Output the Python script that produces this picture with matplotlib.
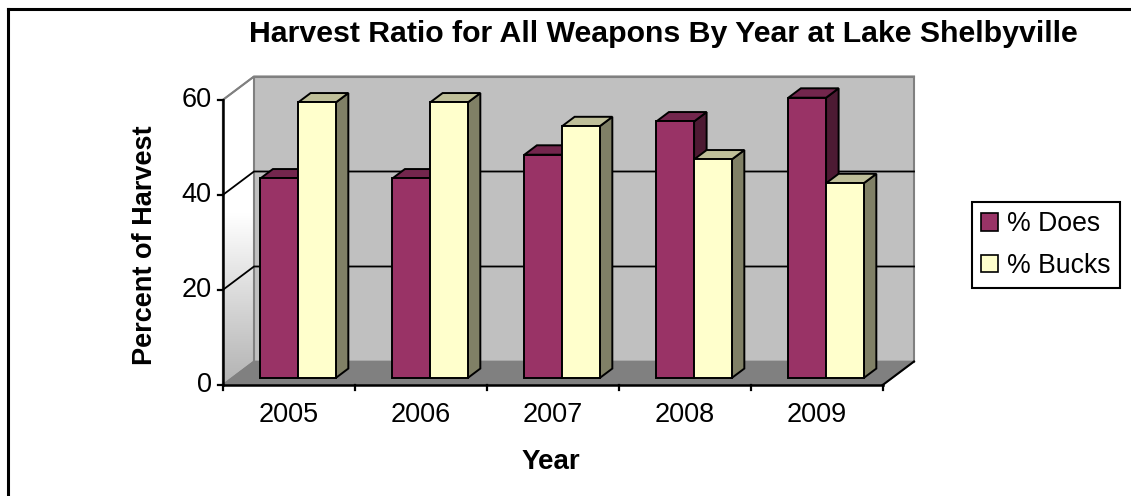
import numpy as np
import matplotlib
matplotlib.use("Agg")
import matplotlib.pyplot as plt
from matplotlib.patches import Polygon, Rectangle, Patch
from matplotlib.lines import Line2D

plt.rcParams['font.family'] = ['Liberation Sans', 'DejaVu Sans']

# ---- data ----
years = ["2005", "2006", "2007", "2008", "2009"]
does = [42, 42, 47, 54, 59]
bucks = [58, 58, 53, 46, 41]
series_names = ["% Does", "% Bucks"]
yticks = [0, 20, 40, 60]
title = "Harvest Ratio for All Weapons By Year at Lake Shelbyville"
ylabel = "Percent of Harvest"
xlabel = "Year"

# ---- styles ----
front_cols = ["#993366", "#FFFFCC"]
top_cols = ["#73264D", "#BFBF99"]
side_cols = ["#4D1A33", "#808066"]

W, H = 1131, 496
fig = plt.figure(figsize=(W / 100, H / 100), dpi=100)
fig.patch.set_facecolor("white")

# axes with oblique-projected coordinates: x in category units, y in value units
x0_px, y0_px = 222.7, 385.0
cat_px, val_px = 132.0, 4.75
ax = fig.add_axes([0, 0, 1, 1])
ax.set_xlim(-x0_px / cat_px, (W - x0_px) / cat_px)
ax.set_ylim(-(H - y0_px) / val_px, y0_px / val_px)
ax.axis("off")

n = len(years)
ymax = yticks[-1]
DX, DY = 31.3 / cat_px, 23.5 / val_px   # full depth offset
t0, t1 = 0.3, 0.7                         # bar depth range
BW = 1 / 3.5                              # bar width (gap 150%)

# left wall gradient
lw_poly = Polygon([(0, 0), (DX, DY), (DX, ymax + DY), (0, ymax)], closed=True,
                  facecolor="none", edgecolor="#808080", lw=1.2, zorder=2)
grad = np.linspace(0, 1, 256).reshape(-1, 1)
vals = np.clip((grad * (ymax + DY)) / 36.0, 0, 1)
g = 0.70 + 0.30 * vals
img = np.dstack([g, g, g])
im = ax.imshow(img, extent=[0, DX, 0, ymax + DY], origin="lower",
               aspect="auto", zorder=1, interpolation="bilinear")
ax.add_patch(lw_poly)
im.set_clip_path(lw_poly)

# back wall
ax.add_patch(Rectangle((DX, DY), n, ymax, facecolor="#C0C0C0",
                       edgecolor="#808080", lw=1.5, zorder=1))
# floor
ax.add_patch(Polygon([(0, 0), (n, 0), (n + DX, DY), (DX, DY)], closed=True,
                     facecolor="#808080", edgecolor="#808080", lw=1.2, zorder=2))
ax.plot([n, n + DX], [0, DY], color="black", lw=1.5, zorder=3)

# gridlines on walls
for v in yticks[1:-1]:
    ax.plot([0, DX, n + DX], [v, v + DY, v + DY], color="black", lw=1.3, zorder=3)
ax.plot([0, DX, n + DX], [ymax, ymax + DY, ymax + DY], color="#808080", lw=1.5, zorder=3)

# bars
for i in range(n):
    for s, vals_s in enumerate([does, bucks]):
        v = vals_s[i]
        xl = i + 0.5 - BW + s * BW
        xr = xl + BW
        bx0, by0 = t0 * DX, t0 * DY
        bx1, by1 = t1 * DX, t1 * DY
        side = [(xr + bx0, by0), (xr + bx1, by1), (xr + bx1, v + by1), (xr + bx0, v + by0)]
        top = [(xl + bx0, v + by0), (xr + bx0, v + by0), (xr + bx1, v + by1), (xl + bx1, v + by1)]
        front = [(xl + bx0, by0), (xr + bx0, by0), (xr + bx0, v + by0), (xl + bx0, v + by0)]
        z = 5 + i * 2 + s
        ax.add_patch(Polygon(side, closed=True, facecolor=side_cols[s],
                             edgecolor="black", lw=1.4, zorder=z, joinstyle="miter"))
        ax.add_patch(Polygon(top, closed=True, facecolor=top_cols[s],
                             edgecolor="black", lw=1.4, zorder=z, joinstyle="miter"))
        ax.add_patch(Polygon(front, closed=True, facecolor=front_cols[s],
                             edgecolor="black", lw=1.4, zorder=z, joinstyle="miter"))

# axes lines
ax.plot([0, 0], [0, ymax], color="black", lw=1.8, zorder=20)
ax.plot([0, n], [0, 0], color="black", lw=1.8, zorder=20)
tick_x = 5 / cat_px
tick_y = 5 / val_px
for v in yticks:
    ax.plot([-tick_x, 0], [v, v], color="black", lw=1.6, zorder=20)
    ax.text(-11 / cat_px, v, str(v), ha="right", va="center", fontsize=19.5, zorder=20)
for k in range(n + 1):
    ax.plot([k, k], [0, -tick_y], color="black", lw=1.6, zorder=20)
for i, yr in enumerate(years):
    ax.text(i + 0.5, -29.5 / val_px, yr, ha="center", va="center", fontsize=19.5)

# titles
fig.text(663 / W, 1 - 34 / H, title, ha="center", va="center",
         fontsize=21.8, fontweight="bold")
fig.text(145 / W, 1 - 245 / H, ylabel, ha="center", va="center", rotation=90,
         fontsize=19.5, fontweight="bold")
fig.text(551 / W, 1 - 462 / H, xlabel, ha="center", va="center",
         fontsize=20, fontweight="bold")

# legend
handles = [Patch(facecolor=front_cols[s], edgecolor="black", lw=1.2) for s in range(2)]
leg = ax.legend(handles, series_names, loc="upper left",
                bbox_to_anchor=(971.7 / W, 1 - 201.7 / H), bbox_transform=fig.transFigure,
                fontsize=19.2, frameon=True, fancybox=False, edgecolor="black",
                framealpha=1, borderaxespad=0, handlelength=0.62, handleheight=0.62,
                handletextpad=0.35, labelspacing=0.58, borderpad=0.36)
leg.get_frame().set_linewidth(1.5)

# outer border (cropped on right/bottom)
fig.add_artist(Line2D([7.5 / W, 1], [1 - 9 / H, 1 - 9 / H], color="black", lw=2.2,
                      transform=fig.transFigure))
fig.add_artist(Line2D([7.5 / W, 7.5 / W], [0, 1 - 9 / H], color="black", lw=2.2,
                      transform=fig.transFigure))

fig.savefig("out.png", dpi=100, facecolor="white")
